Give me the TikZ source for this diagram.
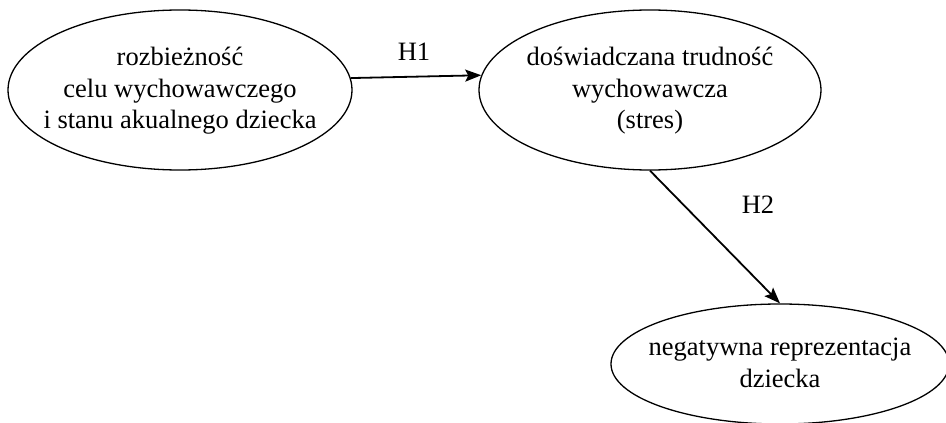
\documentclass[tikz,border=0pt]{standalone}
\usepackage{fontspec}
\setmainfont{Liberation Serif}
\usetikzlibrary{shapes.geometric,arrows.meta}
\begin{document}
\begin{tikzpicture}[x=1pt,y=-1pt,
  oval/.style={draw, line width=1.3pt, ellipse, inner sep=0pt},
  txt/.style={align=center, inner sep=0pt, font=\fontsize{26.5}{31.5}\selectfont},
  arr/.style={line width=1.8pt, -{Stealth[length=16pt,width=12pt,inset=3pt]}},
  lbl/.style={font=\fontsize{26.5}{31.5}\selectfont, inner sep=0pt}]
\useasboundingbox (0,0) rectangle (946,423);
\node[oval, minimum width=344pt, minimum height=160pt] (a) at (180,90) {};
\node[txt] (at) at (180,91) {rozbieżność\\celu wychowawczego\\i stanu akualnego dziecka};
\node[oval, minimum width=342pt, minimum height=160pt] (b) at (650,90) {};
\node[txt] (bt) at (650,91) {doświadczana trudność\\wychowawcza\\(stres)};
\node[oval, minimum width=338pt, minimum height=120pt] (c) at (780,364) {};
\node[txt] (ct) at (780,363) {negatywna reprezentacja\\dziecka};
\draw[arr] (a.4.7) -- (b.175.3);
\draw[arr] (b.south) -- (c.north);
\node[lbl] (h1) at (414,52) {H1};
\node[lbl] (h2) at (758,205) {H2};
\end{tikzpicture}
\end{document}
